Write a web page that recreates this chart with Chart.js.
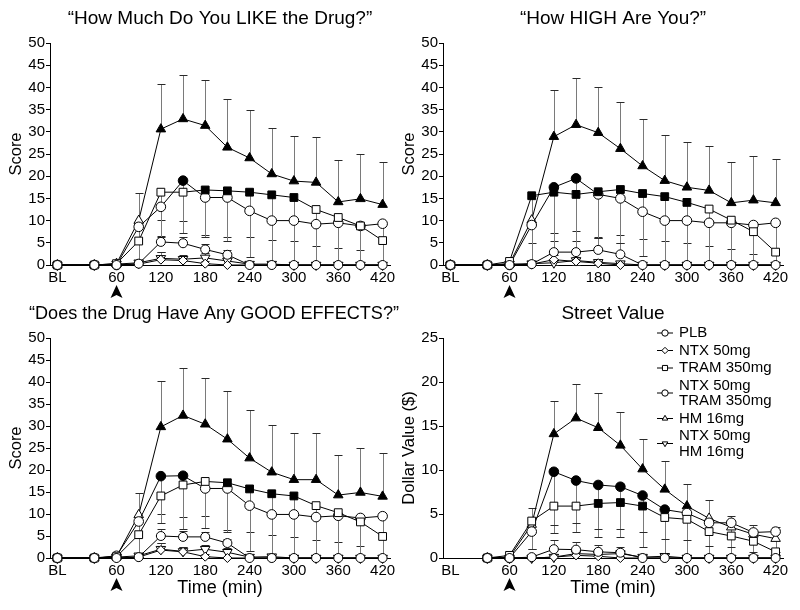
<!DOCTYPE html>
<html>
<head>
<meta charset="utf-8">
<script src="https://cdn.jsdelivr.net/npm/chart.js@4.4.1/dist/chart.umd.min.js"></script>
<style>
  body { margin: 0; background: #fff; overflow: hidden; }
  .panel { position: absolute; width: 400px; }
</style>
</head>
<body>
<div class="panel" style="left:0;top:0;height:300px"><canvas id="likeChart"></canvas></div>
<div class="panel" style="left:393px;top:0;height:300px"><canvas id="highChart"></canvas></div>
<div class="panel" style="left:0;top:295px;height:315px"><canvas id="goodChart"></canvas></div>
<div class="panel" style="left:393px;top:295px;height:315px"><canvas id="streetChart"></canvas></div>
<script>
// time points (min), BL is drawn at -20
const timeMin = [-20, 30, 60, 90, 120, 150, 180, 210, 240, 270, 300, 330, 360, 390, 420];
const timeTicks = [-20, 60, 120, 180, 240, 300, 360, 420];
const groupLabels = ['PLB', 'NTX 50mg', 'TRAM 350mg', 'NTX 50mg\nTRAM 350mg', 'HM 16mg', 'NTX 50mg\nHM 16mg'];

// "How Much Do You LIKE the Drug?"
const likePLB = [0, 0, 0, 0.3, 5.2, 4.9, 3.5, 2.3, 0, 0, 0, 0, 0, 0, 0];
const likeNTX = [0, 0, 0, 0.2, 1.2, 1.0, 0.3, 0, 0, 0, 0, 0, 0, 0, 0];
const likeTRAM = [0, 0, 0.3, 5.4, 16.4, 16.4, 16.9, 16.7, 16.4, 15.8, 15.2, 12.5, 10.7, 8.8, 5.5];
const likeNTXTRAM = [0, 0, 0, 8.6, 13.1, 19.0, 15.2, 15.2, 12.2, 10.0, 10.0, 9.2, 9.5, 8.8, 9.3];
const likeHM = [0, 0, 0.3, 10.0, 30.6, 32.9, 31.4, 26.5, 24.1, 20.5, 18.9, 18.6, 14.2, 14.9, 13.6];
const likeNTXHM = [0, 0, 0.2, 0.5, 1.5, 1.3, 1.6, 0.9, 0.2, 0.2, 0, 0, 0, 0, 0];
const likePLBErr = [0, 0, 0, 0, 1.3, 1.5, 1.2, 1.0, 0, 0, 0, 0, 0, 0, 0];
const likeNTXErr = [0, 0, 0, 0, 1.7, 1.3, 0.5, 0.3, 0, 0, 0, 0, 0, 0, 0];
const likeTRAMErr = [0, 0, 0, 5.0, 6.3, 6.6, 10.1, 10.3, 10.0, 10.2, 9.7, 8.2, 6.9, 5.4, 5.5];
const likeNTXTRAMErr = [0, 0, 0, 8.0, 6.7, 11.7, 9.0, 9.9, 10.3, 10.0, 10.0, 9.2, 9.5, 8.8, 9.3];
const likeHMErr = [0, 0, 0, 6.3, 10.1, 10.0, 10.3, 10.9, 10.9, 10.3, 10.2, 10.3, 9.4, 10.0, 9.6];
const likeNTXHMErr = [0, 0, 0, 0.3, 1.4, 0.8, 1.0, 0.9, 0.3, 0, 0, 0, 0, 0, 0];
const likeTRAMSig = [180, 210, 240, 270, 300];
const likeNTXTRAMSig = [150];
const likeHMSig = [120, 150, 180, 210, 240, 270, 300, 330, 360, 390, 420];

// "How HIGH Are You?"
const highPLB = [0, 0, 0, 0.2, 2.9, 2.9, 3.4, 2.4, 0, 0, 0, 0, 0, 0, 0];
const highNTX = [0, 0, 0, 0.2, 1.2, 0.8, 0.4, 0, 0, 0, 0, 0, 0, 0, 0];
const highTRAM = [0, 0, 0.8, 15.6, 16.4, 15.9, 16.5, 17.0, 16.1, 15.4, 14.1, 12.6, 10.1, 7.5, 2.9];
const highNTXTRAM = [0, 0, 0, 9.0, 17.5, 19.5, 15.9, 15.0, 12.0, 10.0, 10.0, 9.5, 9.5, 9.0, 9.5];
const highHM = [0, 0, 0.3, 10.1, 28.9, 31.6, 29.8, 26.2, 22.3, 19.0, 17.5, 16.8, 14.0, 14.6, 14.0];
const highNTXHM = [0, 0, 0.2, 0.3, 0.5, 1.0, 0.6, 0.3, 0, 0, 0, 0, 0, 0, 0];
const highPLBErr = [0, 0, 0, 0, 2.5, 2.5, 2.6, 2.5, 0, 0, 0, 0, 0, 0, 0];
const highNTXErr = [0, 0, 0, 0, 1.0, 1.0, 0.6, 0.4, 0, 0, 0, 0, 0, 0, 0];
const highTRAMErr = [0, 0, 0, 10.6, 9.1, 8.2, 10.1, 10.2, 10.2, 9.9, 9.2, 8.3, 6.6, 5.0, 2.9];
const highNTXTRAMErr = [0, 0, 0, 9.0, 17.5, 19.5, 9.9, 10.1, 10.0, 10.0, 10.0, 9.5, 9.5, 9.0, 9.5];
const highHMErr = [0, 0, 0, 5.5, 10.6, 10.5, 10.4, 10.6, 10.5, 10.3, 10.2, 10.0, 9.1, 9.9, 9.8];
const highNTXHMErr = [0, 0, 0, 0.2, 0.7, 0.8, 0.6, 0.5, 0, 0, 0, 0, 0, 0, 0];
const highTRAMSig = [90, 120, 150, 180, 210, 240, 270, 300];
const highNTXTRAMSig = [120, 150];
const highHMSig = [120, 150, 180, 210, 240, 270, 300, 330, 360, 390, 420];

// "Does the Drug Have Any GOOD EFFECTS?"
const goodPLB = [0, 0, 0, 0.2, 5.0, 4.8, 4.8, 3.4, 0, 0, 0, 0, 0, 0, 0];
const goodNTX = [0, 0, 0, 0.2, 1.8, 1.4, 0.3, 0, 0, 0, 0, 0, 0, 0, 0];
const goodTRAM = [0, 0, 0.3, 5.3, 14.1, 16.6, 17.4, 17.1, 15.7, 14.6, 14.1, 11.9, 10.3, 8.2, 4.9];
const goodNTXTRAM = [0, 0, 0.5, 8.3, 18.6, 18.7, 15.8, 15.8, 11.9, 9.9, 9.9, 9.3, 9.6, 9.1, 9.5];
const goodHM = [0, 0, 0.3, 9.8, 29.8, 32.4, 30.4, 27.0, 22.7, 19.5, 17.8, 17.8, 14.3, 14.9, 14.0];
const goodNTXHM = [0, 0, 0.2, 0.5, 2.0, 1.5, 2.0, 1.3, 0.2, 0.3, 0, 0, 0, 0, 0];
const goodPLBErr = [0, 0, 0, 0, 1.7, 1.3, 1.0, 1.0, 0, 0, 0, 0, 0, 0, 0];
const goodNTXErr = [0, 0, 0, 0, 1.5, 1.0, 0.5, 0.3, 0, 0, 0, 0, 0, 0, 0];
const goodTRAMErr = [0, 0, 0, 5.0, 4.2, 7.2, 7.9, 10.7, 9.9, 9.3, 9.4, 7.9, 6.6, 5.4, 4.9];
const goodNTXTRAMErr = [0, 0, 0, 8.0, 10.7, 12.2, 9.0, 10.0, 10.2, 9.9, 9.9, 9.3, 9.6, 9.1, 9.5];
const goodHMErr = [0, 0, 0, 4.9, 10.4, 10.7, 10.4, 11.0, 10.9, 10.7, 10.5, 10.5, 9.1, 10.0, 9.9];
const goodNTXHMErr = [0, 0, 0, 0.3, 1.3, 0.9, 1.0, 0.9, 0.3, 0.3, 0, 0, 0, 0, 0];
const goodTRAMSig = [210, 240, 270, 300];
const goodNTXTRAMSig = [120, 150];
const goodHMSig = [120, 150, 180, 210, 240, 270, 300, 330, 360, 390, 420];

// Street Value (no BL measurement)
const streetPLB = [null, 0, 0, 0.1, 1.0, 0.95, 0.7, 0.6, 0, 0, 0, 0, 0, 0, 0];
const streetNTX = [null, 0, 0, 0, 0.1, 0.3, 0.2, 0, 0, 0, 0, 0, 0, 0, 0];
const streetTRAM = [null, 0, 0.3, 4.2, 5.9, 5.9, 6.2, 6.3, 5.9, 4.6, 4.4, 3.0, 2.5, 1.9, 0.7];
const streetNTXTRAM = [null, 0, 0, 3.0, 9.8, 8.8, 8.3, 8.1, 7.1, 5.5, 5.1, 4.0, 4.0, 2.9, 3.0];
const streetHM = [null, 0, 0.1, 3.8, 14.1, 15.9, 14.8, 12.8, 10.1, 7.8, 5.9, 4.5, 3.5, 2.7, 2.2];
const streetNTXHM = [null, 0, 0, 0, 0.1, 0.5, 0.4, 0.5, 0.1, 0.2, 0, 0, 0, 0, 0];
const streetPLBErr = [0, 0, 0, 0, 1.0, 0.9, 0.8, 0.7, 0, 0, 0, 0, 0, 0, 0];
const streetNTXErr = [0, 0, 0, 0, 0.3, 0.4, 0.3, 0.2, 0, 0, 0, 0, 0, 0, 0];
const streetTRAMErr = [0, 0, 0, 3.2, 3.1, 3.0, 3.8, 3.9, 4.7, 4.6, 4.4, 3.0, 2.5, 1.9, 0.7];
const streetNTXTRAMErr = [0, 0, 0, 2.0, 6.0, 4.8, 5.0, 4.8, 4.2, 3.3, 3.0, 2.6, 2.8, 2.2, 2.3];
const streetHMErr = [0, 0, 0, 1.9, 3.7, 3.9, 3.9, 3.8, 3.4, 3.2, 2.5, 2.1, 1.3, 1.1, 1.3];
const streetNTXHMErr = [0, 0, 0, 0, 0.3, 0.4, 0.4, 0.4, 0.2, 0.2, 0, 0, 0, 0, 0];
const streetTRAMSig = [180, 210, 240];
const streetNTXTRAMSig = [120, 150, 180, 210, 240, 270];
const streetHMSig = [120, 150, 180, 210, 240, 270, 300];

const FONT = '"Liberation Sans", Arial, Helvetica, sans-serif';
Chart.defaults.font.family = FONT;
Chart.defaults.color = '#000';

// marker per group: PLB, NTX, TRAM, NTX+TRAM, HM, NTX+HM
const markerStyles = [
  { pointStyle: 'circle', radius: 4.5, rotation: 0, errDir: 1 },
  { pointStyle: 'rectRot', radius: 4.5, rotation: 0, errDir: 1 },
  { pointStyle: 'rect', radius: 5.5, rotation: 0, errDir: -1 },
  { pointStyle: 'circle', radius: 4.8, rotation: 0, errDir: -1 },
  { pointStyle: 'triangle', radius: 5.5, rotation: 0, errDir: 1 },
  { pointStyle: 'triangle', radius: 5.5, rotation: 180, errDir: 1 }
];

/**
 * draws a small marker for the legend
 */
function drawMarker(ctx, style, x, y, r) {
  ctx.beginPath();
  if (style.pointStyle === 'circle') {
    ctx.arc(x, y, r, 0, Math.PI * 2);
  } else if (style.pointStyle === 'rect') {
    ctx.rect(x - r * 0.8, y - r * 0.8, r * 1.6, r * 1.6);
  } else if (style.pointStyle === 'rectRot') {
    ctx.moveTo(x, y - r); ctx.lineTo(x + r, y); ctx.lineTo(x, y + r); ctx.lineTo(x - r, y);
  } else {
    const s = style.rotation ? -1 : 1;
    ctx.moveTo(x, y - s * r); ctx.lineTo(x + r * 0.87, y + s * r * 0.5); ctx.lineTo(x - r * 0.87, y + s * r * 0.5);
  }
  ctx.closePath();
  ctx.fillStyle = '#fff';
  ctx.fill();
  ctx.stroke();
}

// error bars: grey stem from the mean, dark cap at mean +/- SEM
const errorBarPlugin = {
  id: 'errorBars',
  beforeDatasetsDraw(chart) {
    const ctx = chart.ctx;
    const yScale = chart.scales.y;
    chart.data.datasets.forEach((ds, di) => {
      if (!ds.errorBars) return;
      const meta = chart.getDatasetMeta(di);
      ds.errorBars.forEach((err, i) => {
        const v = ds.data[i].y;
        if (!err || v === null) return;
        const x = Math.round(meta.data[i].x) + 0.5;
        const y0 = yScale.getPixelForValue(v);
        const y1 = Math.round(yScale.getPixelForValue(Math.max(0, v + ds.errorDir * err))) + 0.5;
        ctx.save();
        ctx.lineWidth = 1;
        ctx.strokeStyle = '#7a7a7a';
        ctx.beginPath(); ctx.moveTo(x, y0); ctx.lineTo(x, y1); ctx.stroke();
        ctx.strokeStyle = '#2a2a2a';
        ctx.beginPath(); ctx.moveTo(x - 4, y1); ctx.lineTo(x + 4, y1); ctx.stroke();
        ctx.restore();
      });
    });
  }
};

// panel title, dosing arrowhead at 60 min and the legend of the last panel
const panelTextPlugin = {
  id: 'panelText',
  afterDraw(chart, args, opts) {
    const ctx = chart.ctx;
    const area = chart.chartArea;
    ctx.save();
    ctx.fillStyle = '#000';
    ctx.font = '19px ' + FONT;
    ctx.textAlign = 'center';
    ctx.textBaseline = 'middle';
    const maxW = 370;
    const w = Math.min(ctx.measureText(opts.title).width, maxW);
    const cx = Math.min((area.left + area.right) / 2, chart.width - w / 2 - 1);
    ctx.fillText(opts.title, cx, 19, maxW);

    const ax = chart.scales.x.getPixelForValue(60);
    const ay = area.bottom + 20;
    ctx.beginPath();
    ctx.moveTo(ax, ay);
    ctx.lineTo(ax + 6, ay + 13);
    ctx.lineTo(ax, ay + 10);
    ctx.lineTo(ax - 6, ay + 13);
    ctx.closePath();
    ctx.fill();

    if (opts.legend) {
      ctx.font = '15px ' + FONT;
      ctx.textAlign = 'left';
      ctx.strokeStyle = '#000';
      ctx.lineWidth = 1;
      let y = 38;
      chart.data.datasets.forEach((ds, i) => {
        const lines = ds.label.split('\n');
        const my = y + (lines.length - 1) * 7.5;
        ctx.beginPath(); ctx.moveTo(264, my); ctx.lineTo(280, my); ctx.stroke();
        drawMarker(ctx, markerStyles[i], 272, my, 3.2);
        ctx.fillStyle = '#000';
        lines.forEach((t, k) => ctx.fillText(t, 286, y + k * 15.5));
        y += (lines.length - 1) * 15.5 + 17.5;
      });
    }
    ctx.restore();
  }
};

/**
 * builds one panel
 */
function panelChart(id, title, yMax, yTitle, xTitle, series, errors, sigs, legend) {
  const xHeight = xTitle ? 52 : 35;
  const datasets = series.map((vals, i) => {
    const st = markerStyles[i];
    const sig = sigs[i] || [];
    return {
      label: groupLabels[i],
      data: timeMin.map((t, k) => ({ x: t, y: vals[k] })),
      borderColor: '#000',
      borderWidth: 1,
      pointStyle: st.pointStyle,
      pointRotation: st.rotation,
      pointRadius: st.radius,
      pointBorderWidth: 1,
      pointBorderColor: '#000',
      pointBackgroundColor: (c) => sig.includes(timeMin[c.dataIndex]) ? '#000' : '#fff',
      tension: 0,
      clip: false,
      errorBars: errors[i],
      errorDir: st.errDir
    };
  });

  const config = {
    type: 'line',
    data: { datasets: datasets },
    options: {
      responsive: true,
      maintainAspectRatio: false,
      animation: false,
      layout: { padding: { top: 43, right: 10, left: 0, bottom: 0 } },
      plugins: {
        legend: { display: false },
        tooltip: { enabled: false },
        panelText: { title: title, legend: legend }
      },
      scales: {
        x: {
          type: 'linear',
          min: -30,
          max: 430,
          afterBuildTicks: (scale) => { scale.ticks = timeTicks.map(v => ({ value: v })); },
          afterFit: (scale) => { scale.height = xHeight; },
          ticks: {
            autoSkip: false,
            maxRotation: 0,
            padding: 4,
            font: { size: 15 },
            color: '#000',
            callback: (v) => v === -20 ? 'BL' : v
          },
          grid: { drawOnChartArea: false, drawTicks: false },
          border: { color: '#000', width: 1 },
          title: {
            display: !!xTitle,
            text: xTitle,
            font: { size: 18 },
            color: '#000',
            padding: { top: 0, bottom: 11 }
          }
        },
        y: {
          min: 0,
          max: yMax,
          afterFit: (scale) => { scale.width = 50; },
          ticks: { stepSize: 5, padding: 1, font: { size: 15 }, color: '#000' },
          grid: { drawOnChartArea: false, drawTicks: true, tickLength: 4, color: '#000' },
          border: { color: '#000', width: 1 },
          title: {
            display: true,
            text: yTitle,
            font: { size: 16.5 },
            color: '#000',
            padding: { top: 7, bottom: 0 }
          }
        }
      }
    },
    plugins: [errorBarPlugin, panelTextPlugin]
  };

  new Chart(document.getElementById(id), config);
}

panelChart('likeChart', '\u201CHow Much Do You LIKE the Drug?\u201D', 50, 'Score', '',
  [likePLB, likeNTX, likeTRAM, likeNTXTRAM, likeHM, likeNTXHM],
  [likePLBErr, likeNTXErr, likeTRAMErr, likeNTXTRAMErr, likeHMErr, likeNTXHMErr],
  [null, null, likeTRAMSig, likeNTXTRAMSig, likeHMSig, null], false);

panelChart('highChart', '\u201CHow HIGH Are You?\u201D', 50, 'Score', '',
  [highPLB, highNTX, highTRAM, highNTXTRAM, highHM, highNTXHM],
  [highPLBErr, highNTXErr, highTRAMErr, highNTXTRAMErr, highHMErr, highNTXHMErr],
  [null, null, highTRAMSig, highNTXTRAMSig, highHMSig, null], false);

panelChart('goodChart', '\u201CDoes the Drug Have Any GOOD EFFECTS?\u201D', 50, 'Score', 'Time (min)',
  [goodPLB, goodNTX, goodTRAM, goodNTXTRAM, goodHM, goodNTXHM],
  [goodPLBErr, goodNTXErr, goodTRAMErr, goodNTXTRAMErr, goodHMErr, goodNTXHMErr],
  [null, null, goodTRAMSig, goodNTXTRAMSig, goodHMSig, null], false);

panelChart('streetChart', 'Street Value', 25, 'Dollar Value ($)', 'Time (min)',
  [streetPLB, streetNTX, streetTRAM, streetNTXTRAM, streetHM, streetNTXHM],
  [streetPLBErr, streetNTXErr, streetTRAMErr, streetNTXTRAMErr, streetHMErr, streetNTXHMErr],
  [null, null, streetTRAMSig, streetNTXTRAMSig, streetHMSig, null], true);
</script>
</body>
</html>
